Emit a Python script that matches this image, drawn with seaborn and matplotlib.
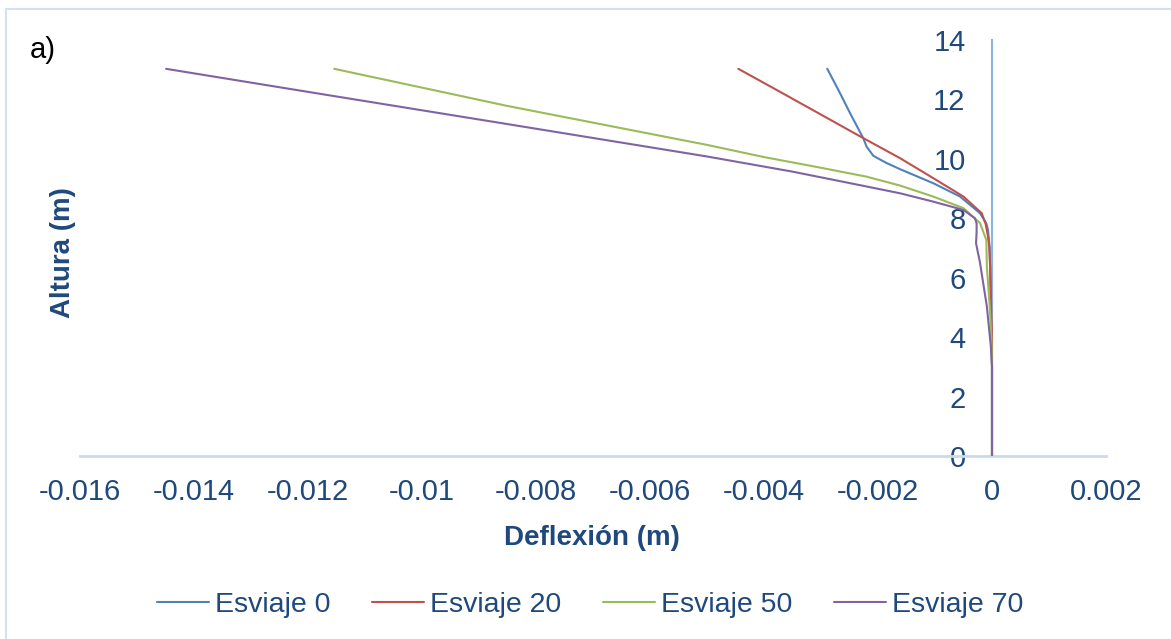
import matplotlib
matplotlib.use('Agg')
import matplotlib.pyplot as plt
import matplotlib.patches as patches
import pandas as pd
import seaborn as sns

# Altura (m) vs Deflexión (m)
series_names = ['Esviaje 0', 'Esviaje 20', 'Esviaje 50', 'Esviaje 70']
colors = ['#4F81BD', '#C0504D', '#9BBB59', '#8064A2']

esv0_h = [0, 2, 3, 4, 5, 5.9, 7.0, 7.6, 7.83, 8.17, 8.73, 9.18, 9.65, 9.86, 10.1, 10.41, 10.7, 11.5, 12.3, 13.03]
esv0_d = [0, 0, 0, -0.00001, -0.00002, -0.00003, -0.00004, -0.00007, -0.0001, -0.00021, -0.00056, -0.00103,
          -0.00161, -0.00185, -0.00208, -0.0022, -0.00226, -0.00248, -0.00269, -0.00289]

esv20_h = [0, 3, 4, 4.6, 5.5, 6.3, 7.05, 7.38, 7.8, 8.17, 8.73, 9.35, 10.02, 10.7, 11.5, 12.3, 13.03]
esv20_d = [0, 0, 0, -0.00001, -0.00002, -0.00003, -0.00005, -0.00007, -0.00011, -0.00018, -0.0005, -0.00103,
           -0.00161, -0.00226, -0.00301, -0.00376, -0.00445]

esv50_h = [0, 3, 4, 5.03, 6.37, 7.27, 7.84, 8.34, 8.73, 9.1, 9.4, 9.70, 10.06, 10.47, 11.78, 13.03]
esv50_d = [0, 0, -0.00001, -0.00004, -0.00009, -0.0001, -0.00021, -0.0005, -0.00103, -0.00161, -0.0022, -0.003,
           -0.004, -0.005, -0.0085, -0.01154]

esv70_h = [0, 3.0, 3.68, 5.03, 6.5, 7.16, 7.55, 7.83, 8.0, 8.28, 8.56, 8.84, 9.07, 9.57, 10.08, 11.17, 12.13, 13.03]
esv70_d = [0, 0, -0.00002, -0.00009, -0.00021, -0.00028, -0.00027, -0.00027, -0.0003, -0.0005, -0.00103, -0.00161,
           -0.0022, -0.0035, -0.005, -0.0085, -0.0116, -0.01449]

x_ticks = [-0.016, -0.014, -0.012, -0.01, -0.008, -0.006, -0.004, -0.002, 0, 0.002]
x_labels = ['-0.016', '-0.014', '-0.012', '-0.01', '-0.008', '-0.006', '-0.004', '-0.002', '0', '0.002']
y_ticks = [0, 2, 4, 6, 8, 10, 12, 14]

frames = []
for name, h, d in zip(series_names, [esv0_h, esv20_h, esv50_h, esv70_h], [esv0_d, esv20_d, esv50_d, esv70_d]):
    frames.append(pd.DataFrame({'Deflexion': d, 'Altura': h, 'Serie': name}))
df = pd.concat(frames, ignore_index=True)

sns.set_style('white')
plt.rcParams['font.family'] = ['Liberation Sans', 'DejaVu Sans']

text_blue = '#1F497D'

fig = plt.figure(figsize=(11.71, 6.39), dpi=100)
ax = fig.add_axes([80 / 1171, 1 - 456 / 639, 1026 / 1171, 416 / 639])

sns.lineplot(data=df, x='Deflexion', y='Altura', hue='Serie', hue_order=series_names,
             palette=colors, sort=False, estimator=None, linewidth=1.5, ax=ax, zorder=3)

ax.set_xlim(-0.016, 0.002)
ax.set_ylim(0, 14)
ax.set_xticks(x_ticks)
ax.set_xticklabels(x_labels)
ax.set_yticks(y_ticks)

for s in ['top', 'right']:
    ax.spines[s].set_visible(False)
ax.spines['bottom'].set_color('#C9DAEF')
ax.spines['bottom'].set_linewidth(2)
ax.spines['left'].set_position(('data', 0))
ax.spines['left'].set_color('#8DB3E2')
ax.spines['left'].set_linewidth(1.5)

ax.tick_params(axis='x', length=0, pad=16, labelsize=21, labelcolor=text_blue)
ax.tick_params(axis='y', length=0, pad=19, labelsize=21, labelcolor=text_blue)

ax.set_xlabel('Deflexión (m)', fontsize=20, fontweight='bold', color=text_blue, va='center')
ax.xaxis.set_label_coords(0.499, -0.197)
ax.set_ylabel('Altura (m)', fontsize=20, fontweight='bold', color=text_blue, va='center')
ax.yaxis.set_label_coords(-0.017, 0.49)

fig.text(30 / 1171, 1 - 50 / 639, 'a)', fontsize=21, color='black', va='center', ha='left')

handles, labels = ax.get_legend_handles_labels()
ax.get_legend().remove()
fig.legend(handles, labels, loc='center', bbox_to_anchor=(590 / 1171, 1 - 605 / 639), ncol=4,
           frameon=False, fontsize=20.5, labelcolor=text_blue, handlelength=1.85, handletextpad=0.2,
           columnspacing=1.45)

fig.patches.append(patches.Rectangle((6 / 1171, -0.1), 1.2, (639 - 9) / 639 + 0.1, transform=fig.transFigure,
                                     fill=False, edgecolor='#D6E1EF', linewidth=1.5))

fig.savefig('out.png', dpi=100)
